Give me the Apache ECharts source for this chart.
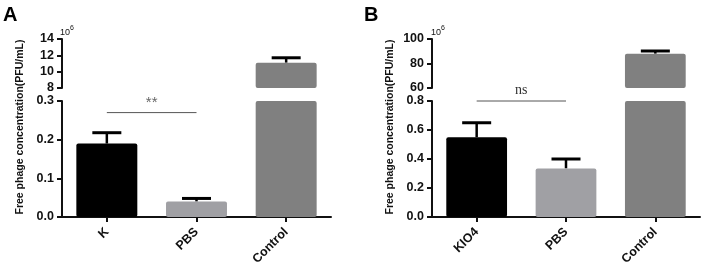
<!DOCTYPE html>
<html><head><meta charset="utf-8">
<script src="https://cdn.jsdelivr.net/npm/echarts@6/dist/echarts.min.js"></script>
<style>html,body{margin:0;padding:0;background:#fff}#c{width:703px;height:266px}</style>
</head><body><div id="c"></div>
<script>
// Panel A
const catsA = ['K', 'PBS', 'Control'];
const valsA = [0.19, 0.04, 11.1];      // x10^6 PFU/mL
const errsA = [0.028, 0.008, 0.6];
const breakA = [0.3, 8];               // lower max, upper min
const upperTicksA = [8, 10, 12, 14];
const lowerTicksA = [0, 0.1, 0.2, 0.3];
const sigA = { from: 0, to: 1, y: 0.27, text: '**' };
// Panel B
const catsB = ['KIO4', 'PBS', 'Control'];
const valsB = [0.55, 0.335, 88];
const errsB = [0.1, 0.065, 2.2];
const breakB = [0.8, 60];
const upperTicksB = [60, 80, 100];
const lowerTicksB = [0, 0.2, 0.4, 0.6, 0.8];
const sigB = { from: 0, to: 1, y: 0.8, text: 'ns' };

const colors = ['#000000', '#a0a0a4', '#808080'];
const yTitle = 'Free phage concentration(PFU/mL)';
const FONT = 'Liberation Sans, Arial, sans-serif';

const chart = echarts.init(document.getElementById('c'), null, { renderer: 'canvas' });

const grids = [];
const xAxes = [];
const yAxes = [];
const series = [];

function panel(p, cats, vals, errs, brk, upT, loT, sig, left, width) {
  const gU = grids.length, gL = gU + 1;
  grids.push({ left: left, width: width, top: 39, height: 49, containLabel: false, outerBoundsMode: 'none' });
  grids.push({ left: left, width: width, top: 101, height: 116, containLabel: false, outerBoundsMode: 'none' });
  const axisLine = { show: true, lineStyle: { color: '#111', width: 2 } };
  const axisTick = { show: true, length: 5, lineStyle: { color: '#111', width: 2 } };
  const label = { color: '#111', fontWeight: 'bold', fontSize: 12.5, fontFamily: FONT, margin: 8 };
  xAxes.push({ type: 'category', gridIndex: gU, data: cats, show: false });
  xAxes.push({ type: 'category', gridIndex: gL, data: cats, axisLine: axisLine,
    axisTick: { show: true, alignWithLabel: true, length: 5, lineStyle: { color: '#111', width: 2 } },
    axisLabel: { color: '#111', fontWeight: 'bold', fontSize: 12.5, fontFamily: FONT, rotate: 45, margin: 13 } });
  const stepU = upT[1] - upT[0], stepL = loT[1] - loT[0];
  yAxes.push({ type: 'value', gridIndex: gU, min: upT[0], max: upT[upT.length - 1], interval: stepU,
    axisLine: axisLine, axisTick: axisTick, splitLine: { show: false },
    axisLabel: Object.assign({}, label) });
  yAxes.push({ type: 'value', gridIndex: gL, min: loT[0], max: loT[loT.length - 1], interval: stepL,
    axisLine: axisLine, axisTick: axisTick, splitLine: { show: false },
    axisLabel: Object.assign({}, label, { formatter: v => v.toFixed(1) }) });
  const xU = xAxes.length - 2, xL = xAxes.length - 1, yU = yAxes.length - 2, yL = yAxes.length - 1;
  const itemStyle = { color: (pp) => colors[pp.dataIndex], borderRadius: 2 };
  series.push({ type: 'bar', xAxisIndex: xU, yAxisIndex: yU, barWidth: '68%',
    data: vals.map(v => v > brk[1] ? v : null), itemStyle: itemStyle, clip: true, silent: true });
  series.push({ type: 'bar', xAxisIndex: xL, yAxisIndex: yL, barWidth: '68%',
    data: vals, itemStyle: itemStyle, clip: true, silent: true });
  const errRender = (params, api) => {
    const i = api.value(0), v = api.value(1), e = api.value(2);
    const p0 = api.coord([i, v]), p1 = api.coord([i, v + e]);
    return { type: 'group', children: [
      { type: 'line', shape: { x1: p0[0], y1: p0[1], x2: p1[0], y2: p1[1] }, style: { stroke: '#000', lineWidth: 2.5 } },
      { type: 'line', shape: { x1: p1[0] - 14.5, y1: p1[1], x2: p1[0] + 14.5, y2: p1[1] }, style: { stroke: '#000', lineWidth: 3 } }
    ] };
  };
  series.push({ type: 'custom', xAxisIndex: xU, yAxisIndex: yU, renderItem: errRender, silent: true,
    data: vals.map((v, i) => [i, v, errs[i]]).filter(d => d[1] > brk[1]) });
  series.push({ type: 'custom', xAxisIndex: xL, yAxisIndex: yL, renderItem: errRender, silent: true,
    data: vals.map((v, i) => [i, v, errs[i]]).filter(d => d[1] <= brk[0]) });
  series.push({ type: 'custom', xAxisIndex: xL, yAxisIndex: yL, silent: true, z: 5,
    data: [[sig.from, sig.to, sig.y]],
    renderItem: (params, api) => {
      const a = api.coord([api.value(0), api.value(2)]);
      const b = api.coord([api.value(1), api.value(2)]);
      const isNs = sig.text === 'ns';
      return { type: 'group', children: [
        { type: 'line', shape: { x1: a[0], y1: a[1], x2: b[0], y2: b[1] }, style: { stroke: '#555', lineWidth: 1 } },
        { type: 'text', x: (a[0] + b[0]) / 2, y: a[1] - (isNs ? 4 : 10), style: { text: sig.text,
          fill: isNs ? '#333' : '#666', fontSize: isNs ? 14 : 15,
          fontFamily: isNs ? 'Liberation Serif, Times New Roman, serif' : FONT,
          align: 'center', verticalAlign: isNs ? 'bottom' : 'middle' } }
      ] };
    } });
}

panel('A', catsA, valsA, errsA, breakA, upperTicksA, lowerTicksA, sigA, 62, 269);
panel('B', catsB, valsB, errsB, breakB, upperTicksB, lowerTicksB, sigB, 432, 268);

const sup = { b: { fontSize: 9, fontFamily: FONT, fill: '#111', verticalAlign: 'bottom' }, s: { fontSize: 7, fontFamily: FONT, fill: '#111', verticalAlign: 'top', padding: [0, 0, 5, 0] } };
const graphic = [
  { type: 'text', left: 3, top: 5, style: { text: 'A', fontSize: 20, fontWeight: 'bold', fontFamily: FONT, fill: '#000' } },
  { type: 'text', left: 364, top: 5, style: { text: 'B', fontSize: 20, fontWeight: 'bold', fontFamily: FONT, fill: '#000' } },
  { type: 'text', x: 60, y: 25, style: { text: '{b|10}{s|6}', rich: sup } },
  { type: 'text', x: 431, y: 25, style: { text: '{b|10}{s|6}', rich: sup } },
  { type: 'text', x: 20, y: 127, rotation: Math.PI / 2, style: { text: yTitle, fontSize: 10.5, fontWeight: 'bold', fontFamily: FONT, fill: '#111', align: 'center', verticalAlign: 'middle' } },
  { type: 'text', x: 390, y: 127, rotation: Math.PI / 2, style: { text: yTitle, fontSize: 10.5, fontWeight: 'bold', fontFamily: FONT, fill: '#111', align: 'center', verticalAlign: 'middle' } }
];

chart.setOption({ animation: false, backgroundColor: '#fff', grid: grids, xAxis: xAxes, yAxis: yAxes, series: series, graphic: graphic });
</script></body></html>
